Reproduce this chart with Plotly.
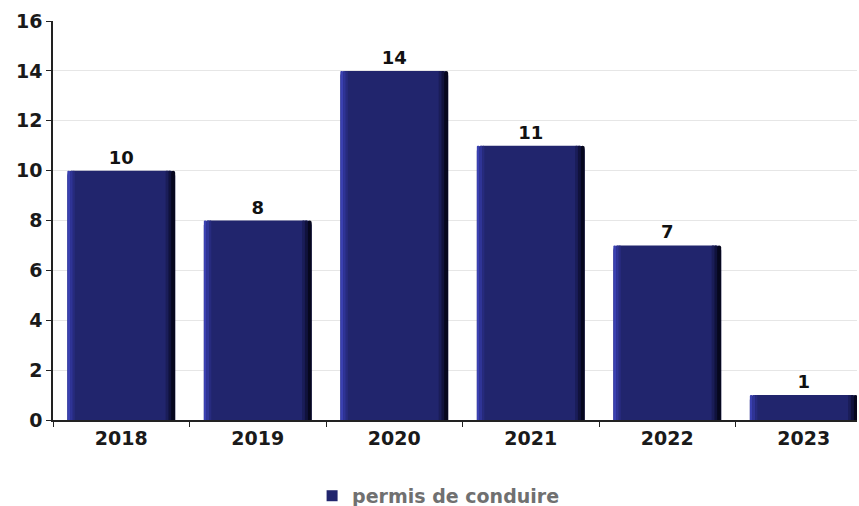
import plotly.graph_objects as go

years = ["2018", "2019", "2020", "2021", "2022", "2023"]
values = [10, 8, 14, 11, 7, 1]
series_name = "permis de conduire"

fig = go.Figure()
fig.add_trace(go.Bar(
    x=years, y=values, name=series_name, showlegend=False,
    marker=dict(color="#21256d", line=dict(width=0), cornerradius=5),
    width=0.79,
    text=[str(v) for v in values], textposition="outside",
    textfont=dict(family="DejaVu Sans", size=18, color="#111111", weight="bold"),
    cliponaxis=False,
))
# shading strips (same data) to mimic the bevel gradient
strips = [
    (-0.395, 0.02, "#3a40b0"),
    (-0.375, 0.02, "#2f3496"),
    (-0.355, 0.015, "#272b7e"),
    (0.325, 0.02, "#1a1d58"),
    (0.345, 0.02, "#10123c"),
    (0.365, 0.03, "#06071e"),
]
for off, w, c in strips:
    fig.add_trace(go.Bar(
        x=years, y=values, showlegend=False, hoverinfo="skip",
        marker=dict(color=c, line=dict(width=0), cornerradius=2),
        width=w, offset=off, cliponaxis=False,
    ))
# legend entry (square swatch)
fig.add_trace(go.Scatter(
    x=[None], y=[None], mode="markers", name=series_name,
    marker=dict(symbol="square", size=11, color="#21256d"),
))

fig.update_layout(
    width=859, height=506,
    margin=dict(l=53, r=2, t=21, b=86),
    plot_bgcolor="white", paper_bgcolor="white",
    barmode="overlay",
    font=dict(family="DejaVu Sans", size=19, color="#1a1a1a"),
    showlegend=True,
    legend=dict(orientation="h", xref="container", yref="container",
                x=0.51, xanchor="center", y=0.02, yanchor="middle",
                font=dict(size=19, color="#707070", weight="bold"),
                itemwidth=30),
)
fig.update_xaxes(
    automargin=False,
    range=[-0.5, 5.39],
    showline=True, linecolor="#222222", linewidth=1.5,
    ticks="outside", tickson="boundaries", ticklen=5, tickcolor="#222222",
    tickfont=dict(size=19, weight="bold"),
)
fig.update_yaxes(
    automargin=False,
    range=[0, 16], dtick=2,
    showline=True, linecolor="#222222", linewidth=1.5,
    ticks="outside", ticklen=5, tickcolor="#222222",
    showgrid=True, gridcolor="#e6e6e6", gridwidth=1,
    zeroline=False,
    tickfont=dict(size=19, weight="bold"),
)

fig.write_html("out.html", config={"displayModeBar": False},
               post_script="document.body.style.margin='0';")
